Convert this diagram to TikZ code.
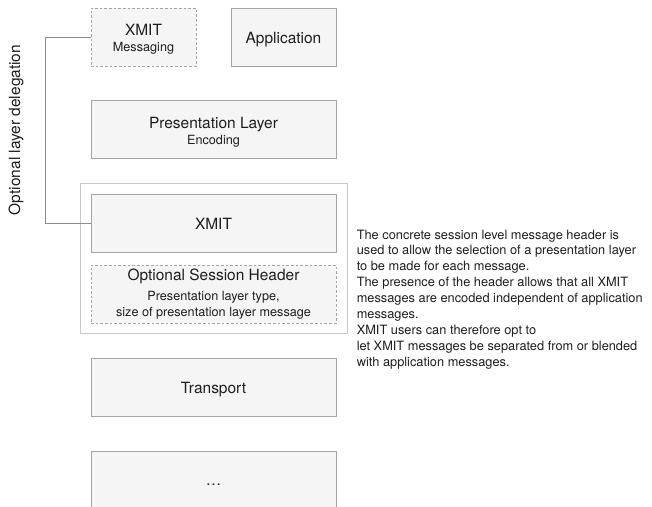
\documentclass[tikz,border=0pt]{standalone}
\usepackage{fontspec}
\setmainfont{TeX Gyre Heros}
\definecolor{boxfill}{HTML}{F5F5F5}
\definecolor{boxline}{HTML}{A5A5A5}
\definecolor{outerline}{HTML}{C8C8C8}
\definecolor{txt}{HTML}{1E1E1E}
\definecolor{conn}{HTML}{8C8C8C}
\newcommand{\ttl}[1]{\fontsize{11.6}{#1}\selectfont}
\newcommand{\sbt}[1]{\fontsize{9.5}{#1}\selectfont}
\begin{document}
\begin{tikzpicture}[x=0.75pt,y=-0.75pt,
  every node/.style={text=txt},
  layerbox/.style={draw=boxline,fill=boxfill,line width=0.7pt,inner sep=0pt,outer sep=0pt,
    minimum height=43.5pt,align=center},
  oneline/.style={text height=9.2pt,text depth=0pt},
  dashbox/.style={layerbox,dash pattern=on 2pt off 1.5pt},
  wide/.style={minimum width=183.75pt},
  narrow/.style={minimum width=78.75pt},
  container/.style={draw=outerline,line width=0.7pt,inner sep=0pt,outer sep=0pt,
    minimum width=200.25pt,minimum height=112.5pt},
  connector/.style={draw=conn,line width=0.7pt}]
\useasboundingbox (0,0) rectangle (652,506);
\fill[white] (0,0) rectangle (652,506);

\node[container] (outer) at (213.5,258) {};

\node[dashbox,narrow,text height=22.5pt,text depth=0pt] (xm) at (143.5,37)
  {\ttl{12.2}XMIT\\\sbt{12.2}Messaging};
\node[layerbox,narrow,oneline] (app) at (283.5,37) {\ttl{14}Application};
\node[layerbox,wide,text height=22.5pt,text depth=0pt] (pres) at (213.5,129.5)
  {\ttl{11.3}Presentation Layer\\\sbt{11.3}Encoding};
\node[layerbox,wide,oneline] (xmit) at (213.5,223.5) {\ttl{14}XMIT};
\node[dashbox,wide,text height=33pt,text depth=0pt] (osh) at (213.5,294)
  {\ttl{10.7}Optional Session Header\\[2.3pt]\sbt{10.7}Presentation layer type,\\\sbt{10.7}size of presentation layer message};
\node[layerbox,wide,oneline] (tr) at (213.5,387) {\ttl{14}Transport};
\node[layerbox,wide,text height=8.4pt,text depth=0pt] (more) at (213.5,480) {\ttl{14}\dots};

\coordinate (bend) at (45,0);
\draw[connector] (xm.west) -- (xm.west -| bend) -- (xmit.west -| bend) -- (xmit.west);

\node[rotate=90,inner sep=0pt] (deleg) at (16,130) {\ttl{14}Optional layer delegation};

\node[anchor=north west,align=left,inner sep=0pt,font=\fontsize{9.6}{11.9}\selectfont] (note) at (356.5,229.5)
{The concrete session level message header is\\
used to allow the selection of a presentation layer\\
to be made for each message.\\
The presence of the header allows that all XMIT\\
messages are encoded independent of application\\
messages.\\
XMIT users can therefore opt to\\
let XMIT messages be separated from or blended\\
with application messages.};
\end{tikzpicture}
\end{document}
